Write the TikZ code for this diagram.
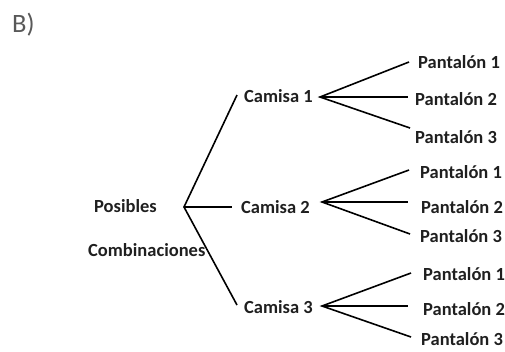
\documentclass[tikz,border=0pt]{standalone}
\usepackage{fontspec}
\setmainfont{Carlito}
\definecolor{labgray}{RGB}{89,89,89}
\begin{document}
\begin{tikzpicture}[x=1pt,y=-1pt,
  lbl/.style={font=\bfseries\fontsize{18.5}{20}\selectfont, inner sep=0pt, anchor=base west, text=black!88},
  conn/.style={line width=1.6pt, black}]
\useasboundingbox (0,0) rectangle (505,351);
\node[anchor=base west, inner sep=0pt, text=labgray, font=\fontsize{26.5}{28}\selectfont] (title) at (12,32.5) {B)};
% labels
\node[lbl] (pos) at (94,212) {Posibles};
\node[lbl] (comb) at (88,256) {Combinaciones};
\node[lbl] (cam1) at (244,102) {Camisa 1};
\node[lbl] (cam2) at (241,213) {Camisa 2};
\node[lbl] (cam3) at (244,313) {Camisa 3};
\node[lbl] (p11) at (418,68) {Pantalón 1};
\node[lbl] (p12) at (415,105) {Pantalón 2};
\node[lbl] (p13) at (415,143) {Pantalón 3};
\node[lbl] (p21) at (420,178) {Pantalón 1};
\node[lbl] (p22) at (421,213) {Pantalón 2};
\node[lbl] (p23) at (420,242) {Pantalón 3};
\node[lbl] (p31) at (423,280) {Pantalón 1};
\node[lbl] (p32) at (423,315) {Pantalón 2};
\node[lbl] (p33) at (421,345) {Pantalón 3};
% junction points
\coordinate (root) at (184,207);
\coordinate (e1) at (237,95);
\coordinate (e2) at (232,207);
\coordinate (e3) at (237,305);
\coordinate (a1) at (320,97);
\coordinate (a2) at (322,202);
\coordinate (a3) at (322,306);
\coordinate (e11) at (409,62);
\coordinate (e12) at (408,97);
\coordinate (e13) at (410,128);
\coordinate (e21) at (409,170);
\coordinate (e22) at (408,202);
\coordinate (e23) at (410,234);
\coordinate (e31) at (411,273);
\coordinate (e32) at (408,306);
\coordinate (e33) at (411,337);
% connectors
\draw[conn] (e1) -- (root) -- (e3);
\draw[conn] (root) -- (e2);
\draw[conn] (e11) -- (a1) -- (e13);
\draw[conn] (a1) -- (e12);
\draw[conn] (e21) -- (a2) -- (e23);
\draw[conn] (a2) -- (e22);
\draw[conn] (e31) -- (a3) -- (e33);
\draw[conn] (a3) -- (e32);
\end{tikzpicture}
\end{document}
